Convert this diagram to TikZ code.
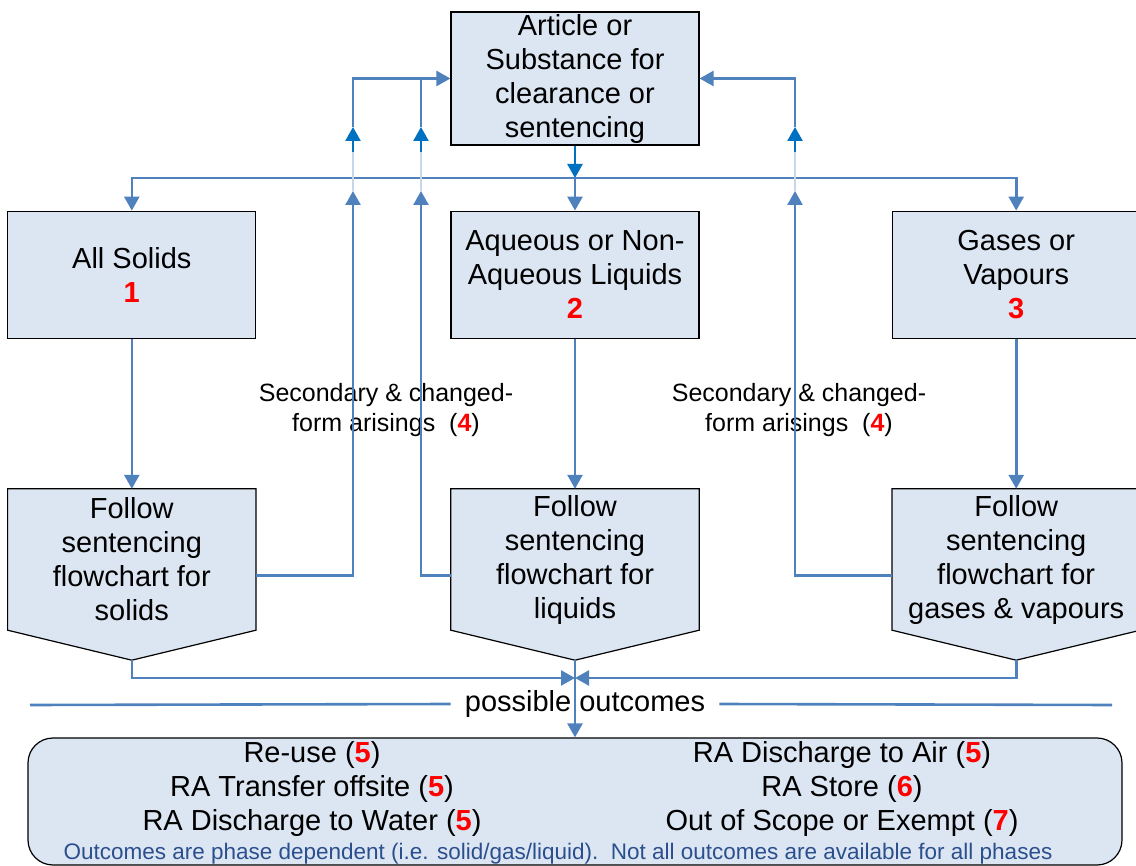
\documentclass[tikz,border=0pt]{standalone}
\usepackage{fontspec}
\setmainfont{Liberation Sans}
\usepackage{xcolor}
\usetikzlibrary{arrows.meta,positioning,backgrounds}
\definecolor{boxfill}{HTML}{DCE6F2}
\definecolor{linkblue}{HTML}{4F81BD}
\definecolor{tipblue}{HTML}{0070C0}
\definecolor{paleblue}{HTML}{C6D6EB}
\definecolor{refred}{HTML}{FF0000}
\definecolor{noteblue}{HTML}{2B4F8E}
\newcommand{\refno}[1]{\textcolor{refred}{\textbf{#1}}}

\begin{document}
\begin{tikzpicture}[
  x=1pt, y=-1pt,
  >={Triangle[width=15pt,length=14pt]},
  every node/.style={inner sep=2pt},
  box/.style={draw, line width=1.2pt, fill=boxfill, align=center, minimum width=248pt, minimum height=127pt, font=\fontsize{29}{34}\selectfont},
  chart/.style={align=center, minimum width=248pt, minimum height=141pt, font=\fontsize{29}{34}\selectfont},
  chartshape/.style={draw, line width=1.2pt, fill=boxfill},
  outbox/.style={draw, line width=1.2pt, fill=boxfill, rounded corners=25pt, minimum width=1094pt, minimum height=127pt},
  big/.style={align=center, font=\fontsize{29}{34}\selectfont},
  lbl/.style={align=center, font=\fontsize{25}{30}\selectfont},
  link/.style={draw=linkblue, line width=2.6pt},
  arr/.style={link, ->},
  darr/.style={draw=tipblue, line width=2.6pt, -{Triangle[width=15pt,length=14pt,fill=tipblue]}},
  pale/.style={draw=paleblue, line width=2.6pt}
]
\useasboundingbox (0,0) rectangle (1136,866);

% --- source and phases ---
\node[box, minimum height=133pt, text depth=6pt] (art) at (575,78.5) {Article or\\ Substance for\\ clearance or\\ sentencing};
\node[box] (liq) [below=65pt of art] {Aqueous or Non-\\ Aqueous Liquids\\ \refno{2}};
\node[box] (sol) [left=194pt of liq] {All Solids\\ \refno{1}};
\node[box] (gas) [right=192pt of liq] {Gases or\\ Vapours\\ \refno{3}};

% --- sentencing flowcharts (pentagons drawn behind) ---
\node[chart] (fsol) [below=150pt of sol] {Follow\\ sentencing\\ flowchart for\\ solids};
\node[chart] (fliq) [below=150pt of liq] {Follow\\ sentencing\\ flowchart for\\ liquids};
\node[chart] (fgas) [below=150pt of gas] {Follow\\ sentencing\\ flowchart for\\ gases \& vapours};
\coordinate (soltip) at ([yshift=-30pt]fsol.south);
\coordinate (liqtip) at ([yshift=-30pt]fliq.south);
\coordinate (gastip) at ([yshift=-30pt]fgas.south);
\begin{scope}[on background layer]
  \foreach \f/\t in {fsol/soltip, fliq/liqtip, fgas/gastip} {
    \draw[chartshape] (\f.north west) -- (\f.north east) -- (\f.south east)
      -- (\t) -- (\f.south west) -- cycle;
  }
\end{scope}

\node[lbl] (sec1) at (386,410) {Secondary \& changed-\\ form arisings~~(\refno{4})};
\node[lbl] (sec2) at (799,410) {Secondary \& changed-\\ form arisings~~(\refno{4})};

% --- outcomes ---
\node[big, inner xsep=14pt] (poss) at (585,704) {possible outcomes};
\node[outbox] (out) at (575,801.5) {};
\node[big] (outl) at (312,789) {Re-use (\refno{5})\\ RA Transfer offsite (\refno{5})\\ RA Discharge to Water (\refno{5})};
\node[big] (outr) at (842,789) {RA Discharge to Air (\refno{5})\\ RA Store (\refno{6})\\ Out of Scope or Exempt (\refno{7})};
\node[font=\fontsize{22.5}{26}\selectfont, text=noteblue] (note) at (558,854) {Outcomes are phase dependent (i.e. solid/gas/liquid).~~Not all outcomes are available for all phases};

% split to phases
\coordinate (split) at (575,178);
\draw[darr] (art.south) -- (split);
\draw[arr] (split) -- (liq.north);
\draw[arr] (split) -| (sol.north);
\draw[arr] (split) -| (gas.north);

% phases to flowcharts
\foreach \p/\f in {sol/fsol, liq/fliq, gas/fgas} {
  \draw[arr] (\p.south) -- (\f.north);
}

% arisings back to the top (bridged over the split line)
\foreach \n/\x in {a/353, b/421, c/795} {
  \coordinate (\n lo) at (\x,191);
  \coordinate (\n hi) at (\x,152);
  \coordinate (\n top) at (\x,127);
  \draw[pale] (\n lo) -- (\n hi);
  \draw[darr] (\n hi) -- (\n top);
}
\coordinate (bjoin) at (421,78.5);
\draw[arr] ([yshift=-16pt]fsol.east) -| (alo);
\draw[arr] ([yshift=-16pt]fliq.west) -| (blo);
\draw[arr] ([yshift=-16pt]fgas.west) -| (clo);
\draw[arr] (atop) |- (art.west);
\draw[link] (btop) -- (bjoin);
\draw[arr] (ctop) |- (art.east);

% flowcharts to outcomes
\coordinate (merge) at (575,678);
\draw[arr] (soltip) |- (merge);
\draw[arr] (gastip) |- (merge);
\draw[arr] (liqtip) -- (out.north);
\coordinate (sepl) at (30,705);
\coordinate (sepr) at (1112,705);
\draw[link] (sepl) -- (poss.west);
\draw[link] (poss.east) -- (sepr);

\end{tikzpicture}
\end{document}
